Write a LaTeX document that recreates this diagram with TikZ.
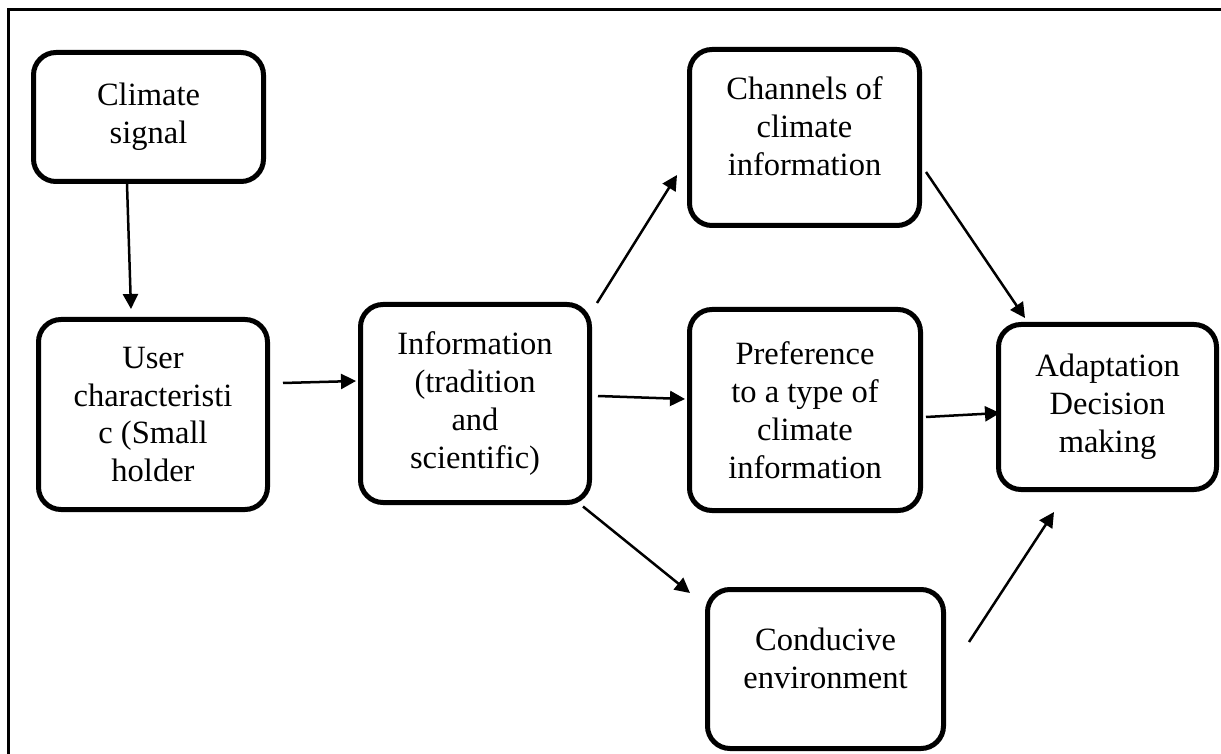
\documentclass[tikz,border=0pt]{standalone}
\usepackage{fontspec}
\setmainfont{Liberation Serif}
\usetikzlibrary{calc,arrows.meta}
\tikzset{
	blockbox/.style={draw, line width=0.1cm, rounded corners=0.45cm, align=center, inner sep=0pt,
		font=\fontsize{18.5}{21.6}\selectfont},
	flowarrow/.style={line width=0.05cm, -{Triangle[length=0.3cm, width=0.3cm]}}
}

\begin{document}
\begin{tikzpicture}
		%%%%% START %%%%%
		\useasboundingbox (0, 0) rectangle (24.42, 15.06);
		
		\draw[line width=0.06cm] (0.18, -0.5) -- (0.18, 14.86) -- (25, 14.86);
		
		\node[blockbox, minimum width=4.60cm, minimum height=2.58cm] (climate) at (2.97, 12.72) {Climate\\signal};
		\node[blockbox, minimum width=4.58cm, minimum height=3.80cm] (user) at (3.06, 6.77) {User\\characteristi\\c (Small\\holder};
		\node[blockbox, minimum width=4.58cm, minimum height=3.96cm] (info) at (9.50, 6.99) {Information\\(tradition\\and\\scientific)};
		\node[blockbox, minimum width=4.60cm, minimum height=3.52cm, text depth=0.45cm] (channels) at (16.09, 12.31) {Channels of\\climate\\information};
		\node[blockbox, minimum width=4.62cm, minimum height=4.02cm] (pref) at (16.10, 6.86) {Preference\\to a type of\\climate\\information};
		\node[blockbox, minimum width=4.36cm, minimum height=3.30cm] (adapt) at (22.15, 6.92) {Adaptation\\Decision\\making};
		\node[blockbox, minimum width=4.72cm, minimum height=3.18cm, text depth=0.45cm] (conducive) at (16.51, 1.68) {Conducive\\environment};
		
		\draw[flowarrow] ($(climate.south)+(-0.43, 0)$) -- ($(user.north)+(-0.44, 0.16)$);
		\draw[flowarrow] ($(user.east)+(0.26, 0.63)$) -- ($(info.west)+(-0.04, 0.45)$);
		
		\draw[flowarrow] ($(info.east)+(0.10, 2.01)$) -- ($(channels.west)+(-0.20, -0.75)$);
		\draw[flowarrow] ($(info.east)+(0.12, 0.15)$) -- ($(pref.west)+(-0.04, 0.22)$);
		\draw[flowarrow] ($(info.south east)+(-0.18, -0.03)$) -- ($(conducive.north west)+(-0.30, -0.12)$);
		
		\draw[flowarrow] ($(channels.east)+(0.08, -0.69)$) -- ($(adapt.north west)+(0.58, 0.08)$);
		\draw[flowarrow] ($(pref.east)+(0.06, -0.14)$) -- ($(adapt.west)+(0.08, -0.12)$);
		\draw[flowarrow] ($(conducive.east)+(0.46, 0.54)$) -- ($(adapt.south)+(-1.07, -0.40)$);
		%%%%% END %%%%%
	\end{tikzpicture}
\end{document}
